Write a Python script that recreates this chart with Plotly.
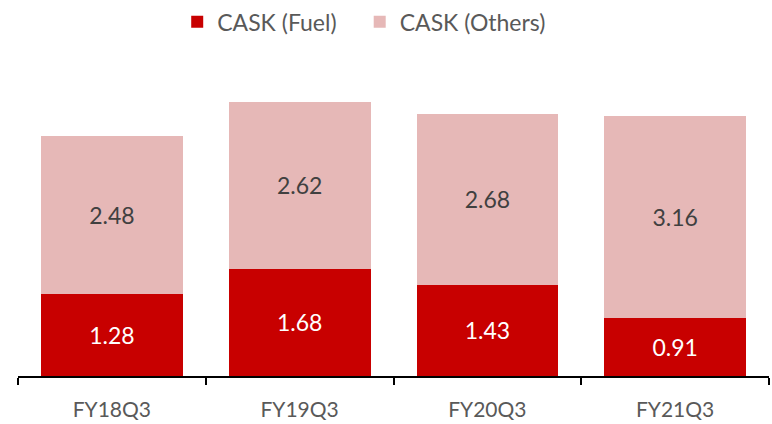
import plotly.graph_objects as go

categories = ["FY18Q3", "FY19Q3", "FY20Q3", "FY21Q3"]
cask_fuel = [1.28, 1.68, 1.43, 0.91]
cask_others = [2.48, 2.62, 2.68, 3.16]

FONT = "Lato, 'Open Sans', sans-serif"

fig = go.Figure()
fig.add_trace(go.Bar(
    name="CASK (Fuel)", x=categories, y=cask_fuel,
    marker=dict(color="#C80000", line=dict(width=0)),
    text=[f"{v:.2f}" for v in cask_fuel], textposition="inside",
    insidetextanchor="middle",
    textfont=dict(color="white", size=23, family=FONT),
    legend="legend", showlegend=True,
))
fig.add_trace(go.Bar(
    name="CASK (Others)", x=categories, y=cask_others,
    marker=dict(color="#E6B8B7", line=dict(width=0)),
    text=[f"{v:.2f}" for v in cask_others], textposition="inside",
    insidetextanchor="middle",
    textfont=dict(color="#404040", size=23, family=FONT),
    legend="legend2", showlegend=True,
))

legend_style = dict(
    orientation="h", xanchor="left", y=1.11, yanchor="middle",
    font=dict(size=23, color="#595959", family=FONT),
    itemwidth=30,
)

fig.update_layout(
    barmode="stack",
    bargap=0.245,
    width=772, height=424,
    margin=dict(l=18, r=3, t=57, b=48, autoexpand=False),
    plot_bgcolor="white", paper_bgcolor="white",
    font=dict(family=FONT, color="#595959", size=21),
    uniformtext=dict(mode=False),
    showlegend=True,
    legend=dict(x=0.212, **legend_style),
    legend2=dict(x=0.455, **legend_style),
    xaxis=dict(
        showline=True, linecolor="black", linewidth=1.5,
        ticks="outside", ticklen=7, tickcolor="black", tickwidth=1.5,
        tickson="boundaries", automargin=False, ticklabelstandoff=14,
        tickfont=dict(size=21, color="#595959", family=FONT),
        showgrid=False,
    ),
    yaxis=dict(visible=False, range=[0, 5], showgrid=False, automargin=False),
)

fig.write_html("out.html", config={"displayModeBar": False},
               post_script="document.body.style.margin='0';")
